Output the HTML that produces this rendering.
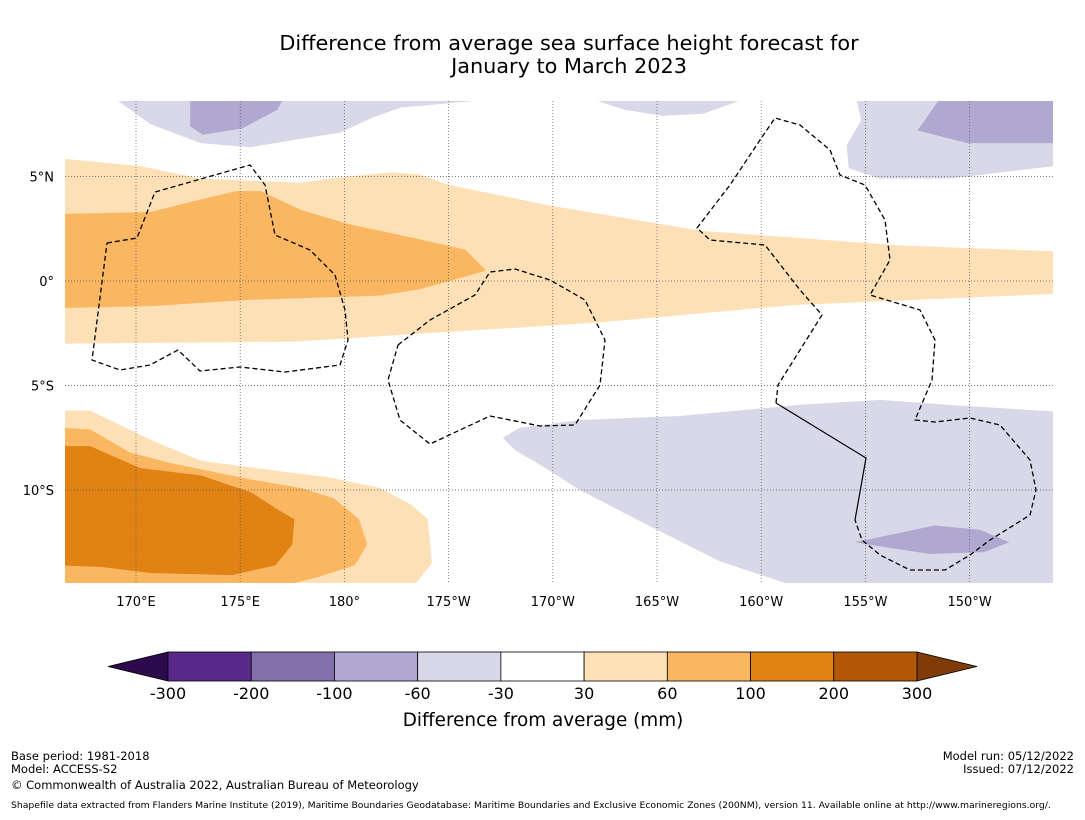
<!DOCTYPE html>
<html><head><meta charset="utf-8">
<style>
body{margin:0;background:#fff;font-family:"DejaVu Sans","Liberation Sans",sans-serif;}
svg text{font-family:"DejaVu Sans","Liberation Sans",sans-serif;}
</style></head>
<body>
<svg id="chart" width="1085" height="816" viewBox="0 0 1085 816">
<rect width="1085" height="816" fill="#fff"/>
<text x="569" y="50" font-size="20.8" text-anchor="middle">Difference from average sea surface height forecast for</text>
<text x="569" y="73" font-size="20.8" text-anchor="middle">January to March 2023</text>
<defs><clipPath id="mapclip"><rect x="65" y="101" width="988" height="482"/></clipPath></defs>
<g id="map" clip-path="url(#mapclip)"></g>
<g id="grid"></g>
<g id="eez" clip-path="url(#mapclip)"></g>
<g id="axes"></g>
<g id="cbar"></g>
<text x="543" y="726" font-size="18.4" text-anchor="middle">Difference from average (mm)</text>
<text x="11" y="760" font-size="11.5">Base period: 1981-2018</text>
<text x="11" y="773" font-size="11.5">Model: ACCESS-S2</text>
<text x="11" y="789" font-size="11.5">© Commonwealth of Australia 2022, Australian Bureau of Meteorology</text>
<text x="11" y="808" font-size="9.25">Shapefile data extracted from Flanders Marine Institute (2019), Maritime Boundaries Geodatabase: Maritime Boundaries and Exclusive Economic Zones (200NM), version 11. Available online at http://www.marineregions.org/.</text>
<text x="1074" y="760" font-size="11.5" text-anchor="end">Model run: 05/12/2022</text>
<text x="1074" y="773" font-size="11.5" text-anchor="end">Issued: 07/12/2022</text>
</svg>
<script>
// Axis tick data
const lonTicks = [170, 175, 180, 185, 190, 195, 200, 205, 210];
const lonLabels = ["170°E","175°E","180°","175°W","170°W","165°W","160°W","155°W","150°W"];
const latTicks = [5, 0, -5, -10];
const latLabels = ["5°N","0°","5°S","10°S"];
// Colorbar data
const levels = [-300,-200,-100,-60,-30,30,60,100,200,300];
const levelLabels = ["-300","-200","-100","-60","-30","30","60","100","200","300"];
const binColors = ["#5a2a8a","#8170ab","#b0a8d0","#d8d8e8","#ffffff","#fde0b6","#fab660","#e08214","#b35806"];
const lowExtColor = "#2d0a4e";
const highExtColor = "#7f3b08";
// Contour regions [lon(0-360), lat], fill level index
const contourLightBand = [[166.0,5.9],[170.2,5.5],[173.1,4.9],[177.9,4.7],[179.3,4.9],[182.2,5.2],[183.6,5.1],[185.0,4.6],[189.9,3.6],[197.1,2.4],[206.7,1.7],[214.5,1.4],[214.5,-0.6],[201.6,-1.15],[192.0,-2.0],[182.4,-2.6],[177.6,-2.9],[166.0,-3.0]];
const contourMidBand = [[166.0,3.2],[170.7,3.3],[173.1,3.9],[174.8,4.3],[176.0,4.3],[177.9,3.4],[180.3,2.7],[183.6,2.0],[185.8,1.5],[186.8,0.5],[183.6,-0.4],[181.7,-0.7],[175.5,-0.9],[170.7,-1.2],[166.0,-1.3]];
const contourTopLeftLav = [[168.6,9],[170.7,7.5],[173.1,6.6],[175.5,6.4],[177.9,6.8],[179.8,7.1],[181.3,7.8],[182.7,8.3],[186.1,8.6],[186.1,9]];
const contourTopLeftLav2 = [[172.6,9],[172.6,7.4],[173.2,7.0],[175.1,7.3],[176.8,8.2],[177.2,9]];
const contourTopMidLav = [[191.0,9],[193.4,8.2],[195.3,7.9],[197.2,8.0],[198.9,8.6],[198.9,9]];
const contourTopRightLav = [[204.5,9],[204.8,7.7],[204.1,6.5],[204.2,5.4],[205.7,4.9],[209.0,4.9],[214.5,5.55],[214.5,9]];
const contourTopRightLav2 = [[208.8,9],[208.2,8.2],[207.5,7.2],[209.9,6.6],[214.5,6.6],[214.5,9]];
const contourSouthLav = [[187.6,-7.5],[188.4,-7.03],[191.3,-6.65],[196.1,-6.46],[201.8,-5.93],[205.7,-5.69],[209.0,-5.93],[214.5,-6.27],[214.5,-15],[202.8,-15],[198.0,-13.4],[194.2,-11.5],[191.3,-10.0],[189.4,-8.8],[188.2,-8.1]];
const contourSouthLav2 = [[204.5,-12.5],[205.7,-12.25],[208.3,-11.7],[210.5,-11.9],[211.9,-12.5],[210.7,-12.97],[208.1,-13.06],[205.7,-12.7]];
const contourSWLight = [[166.0,-6.2],[167.8,-6.2],[170.7,-7.6],[173.1,-8.6],[176.9,-9.1],[179.3,-9.4],[181.7,-9.9],[183.2,-10.7],[184.0,-11.4],[184.2,-13.5],[183.4,-14.5],[183.0,-15],[166.0,-15]];
const contourSWMid = [[166.0,-7.0],[167.8,-7.1],[169.7,-8.2],[171.6,-8.7],[175.5,-9.5],[177.9,-9.9],[179.5,-10.4],[180.7,-11.4],[181.1,-12.6],[180.5,-13.6],[178.8,-14.15],[177.4,-14.5],[176.5,-15],[166.0,-15]];
const contourSWDark = [[166.0,-7.9],[167.8,-7.9],[170.2,-8.95],[173.1,-9.3],[175.5,-10.1],[176.9,-11.0],[177.6,-11.4],[177.5,-12.6],[176.7,-13.6],[174.6,-14.07],[170.7,-13.97],[168.3,-13.68],[166.0,-13.6]];
const regions = [
 {name:"contour-30-60-equatorial", pts:contourLightBand, bin:5},
 {name:"contour-60-100-equatorial", pts:contourMidBand, bin:6},
 {name:"contour-neg30-neg60-northwest", pts:contourTopLeftLav, bin:3},
 {name:"contour-neg60-neg100-northwest", pts:contourTopLeftLav2, bin:2},
 {name:"contour-neg30-neg60-north", pts:contourTopMidLav, bin:3},
 {name:"contour-neg30-neg60-northeast", pts:contourTopRightLav, bin:3},
 {name:"contour-neg60-neg100-northeast", pts:contourTopRightLav2, bin:2},
 {name:"contour-neg30-neg60-south", pts:contourSouthLav, bin:3},
 {name:"contour-neg60-neg100-south", pts:contourSouthLav2, bin:2},
 {name:"contour-30-60-southwest", pts:contourSWLight, bin:5},
 {name:"contour-60-100-southwest", pts:contourSWMid, bin:6},
 {name:"contour-100-200-southwest", pts:contourSWDark, bin:7}
];
// Axis functions
const X0=136, PXD=20.84, Y0=281, PYD=20.9;
function xScale(lon){return X0+(lon-170)*PXD;}
function yScale(lat){return Y0-lat*PYD;}
const NS="http://www.w3.org/2000/svg";
function mk(tag,attrs,parent){const e=document.createElementNS(NS,tag);for(const k in attrs)e.setAttribute(k,attrs[k]);parent.appendChild(e);return e;}

const map=document.getElementById('map');
regions.forEach(r=>{
  const d=r.pts.map((p,i)=>(i?'L':'M')+xScale(p[0]).toFixed(1)+','+yScale(p[1]).toFixed(1)).join('')+'Z';
  const p=mk('path',{d:d,fill:binColors[r.bin],stroke:'none'},map);
  
  
});

const grid=document.getElementById('grid');
lonTicks.forEach((lon,i)=>{
  const x=xScale(lon);
  const l=mk('line',{x1:x,x2:x,y1:101,y2:583,stroke:'#555','stroke-width':0.7,'stroke-dasharray':'1,2'},grid);
  
  
});
latTicks.forEach((lat,i)=>{
  const y=yScale(lat);
  const l=mk('line',{x1:65,x2:1053,y1:y,y2:y,stroke:'#555','stroke-width':0.7,'stroke-dasharray':'1,2'},grid);
  
  
});
const axes=document.getElementById('axes');
lonTicks.forEach((lon,i)=>{
  const t=mk('text',{x:xScale(lon),y:606,'font-size':13,'text-anchor':'middle'},axes);
  t.textContent=lonLabels[i];
  
  
});
latTicks.forEach((lat,i)=>{
  const t=mk('text',{x:54,y:yScale(lat)+5,'font-size':13,'text-anchor':'end'},axes);
  t.textContent=latLabels[i];
  
  
});

// EEZ boundaries (map outlines, pixel traced)
const eezLines=[
 [[107,243],[137,238],[155,192],[250,165],[265,185],[275,235],[310,250],[335,275],[345,310],[348,340],[340,365],[285,372],[240,367],[200,371],[178,350],[150,365],[120,370],[92,360],[107,243]],
 [[398,345],[430,320],[475,295],[490,272],[515,269],[550,280],[585,300],[605,340],[600,385],[575,425],[540,426],[490,416],[430,444],[400,420],[388,380],[398,345]],
 [[776,403],[778,385],[800,350],[822,315],[800,290],[765,245],[710,240],[697,228],[730,185],[760,140],[775,118],[800,125],[830,150],[840,175],[865,185],[885,220],[890,260],[870,295],[920,310],[935,340],[932,380],[915,420],[935,422],[970,418],[1000,425],[1030,460],[1036,490],[1030,515],[990,540],[970,555],[945,570],[910,570],[880,555],[862,540],[855,520]]
];
const eez=document.getElementById('eez');
eezLines.forEach(pts=>{
  const p=mk('polyline',{points:pts.map(q=>q.join(',')).join(' '),fill:'none',stroke:'#000','stroke-width':1.3,'stroke-dasharray':'5,3'},eez);
  
  
});
const sol=mk('polyline',{points:'776,403 866,458 855,520',fill:'none',stroke:'#000','stroke-width':1.2},eez);



// Colorbar
const cb=document.getElementById('cbar');
const CB0=168, CB1=917, CBT=652, CBB=681;
function cbX(i){return CB0+(CB1-CB0)*i/(levels.length-1);}
const le=mk('polygon',{points:`108,666.5 ${CB0},${CBT} ${CB0},${CBB}`,fill:lowExtColor,stroke:'#000','stroke-width':0.8},cb);


const he=mk('polygon',{points:`977,666.5 ${CB1},${CBT} ${CB1},${CBB}`,fill:highExtColor,stroke:'#000','stroke-width':0.8},cb);


binColors.forEach((c,i)=>{
  const r=mk('rect',{x:cbX(i),y:CBT,width:cbX(i+1)-cbX(i),height:CBB-CBT,fill:c,stroke:'#000','stroke-width':0.8},cb);
  
  
});
levelLabels.forEach((s,i)=>{
  const t=mk('text',{x:cbX(i),y:699,'font-size':16,'text-anchor':'middle'},cb);
  t.textContent=s;
  
  
});
</script>
</body></html>
